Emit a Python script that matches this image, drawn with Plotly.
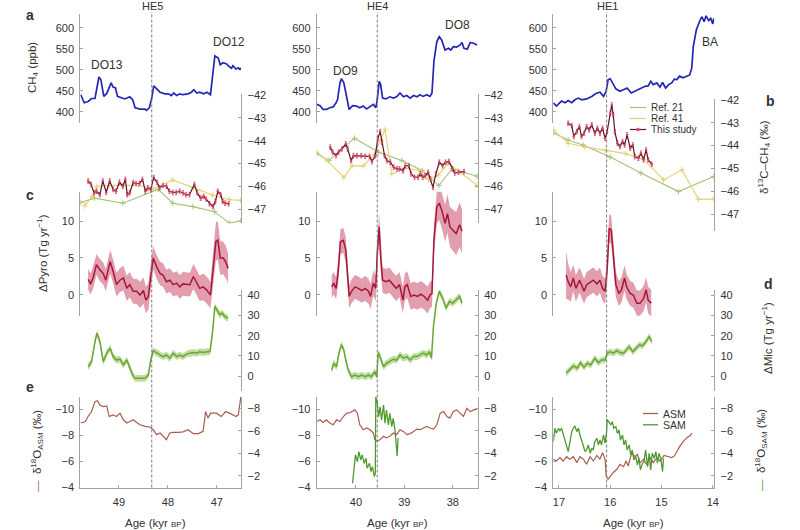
import plotly.graph_objects as go

W, H = 800, 530
def fx(p): return p / W
def fy(p): return 1 - p / H

# ---------------- DATA ----------------
heinrich_labels = ["HE5", "HE4", "HE1"]
heinrich_ages = [48.33, 39.56, 16.07]
x_ticks_he5 = [49, 48, 47]
x_ticks_he4 = [40, 39, 38]
x_ticks_he1 = [17, 16, 15, 14]
ticks_ch4 = [400, 450, 500, 550, 600]
ticks_d13c = [-42, -43, -44, -45, -46, -47]
ticks_pyro = [0, 5, 10]
ticks_mic = [0, 10, 20, 30, 40]
ticks_asm = [-10, -8, -6, -4]
ticks_sam = [-8, -6, -4, -2]

# HE5 column
he5_ch4_age = [49.78, 49.71, 49.63, 49.56, 49.49, 49.44, 49.41, 49.37, 49.31, 49.25, 49.16, 49.12, 49.07, 49.03, 48.95, 48.88, 48.78, 48.72, 48.67, 48.57, 48.47, 48.44, 48.38, 48.33, 48.29, 48.23, 48.16, 48.06, 47.99, 47.93, 47.88, 47.82, 47.76, 47.69, 47.59, 47.52, 47.47, 47.41, 47.35, 47.27, 47.20, 47.13, 47.09, 47.04, 46.97, 46.93, 46.87, 46.80, 46.75, 46.70, 46.67, 46.61, 46.56, 46.53, 46.51]
he5_ch4 = [441, 422, 425, 432, 432, 461, 483, 477, 437, 444, 469, 459, 457, 437, 433, 431, 436, 429, 410, 407, 407, 404, 410, 433, 462, 455, 447, 443, 443, 439, 445, 439, 443, 441, 443, 447, 453, 445, 447, 443, 447, 441, 477, 533, 528, 512, 517, 514, 508, 504, 510, 502, 505, 500, 505]
he5_d13c_age = [49.63, 49.57, 49.51, 49.46, 49.39, 49.33, 49.26, 49.19, 49.12, 49.06, 48.99, 48.92, 48.87, 48.83, 48.78, 48.71, 48.65, 48.58, 48.52, 48.46, 48.41, 48.35, 48.29, 48.22, 48.17, 48.10, 48.03, 47.97, 47.90, 47.83, 47.76, 47.69, 47.63, 47.56, 47.46, 47.40, 47.33, 47.27, 47.22, 47.15, 47.08, 47.03, 46.98, 46.92, 46.88, 46.83, 46.76]
he5_d13c = [-45.76, -45.91, -46.28, -46.21, -46.36, -45.76, -46.26, -45.76, -46.13, -46.21, -45.81, -45.99, -45.69, -46.36, -46.28, -45.83, -45.87, -45.87, -45.69, -46.21, -46.06, -46.13, -45.61, -45.83, -46.06, -45.96, -45.99, -46.21, -46.26, -46.26, -46.21, -46.28, -46.36, -46.36, -45.91, -46.28, -46.51, -46.43, -46.55, -46.76, -46.88, -46.66, -46.21, -46.36, -46.66, -46.73, -46.76]
he5_ref21_age = [49.78, 49.50, 48.92, 48.20, 47.90, 47.49, 47.05, 46.74, 46.51]
he5_ref21 = [-46.70, -46.51, -46.73, -46.13, -46.73, -46.88, -47.10, -47.60, -47.50]
he5_ref41_age = [49.70, 49.55, 49.45, 49.20, 48.90, 48.60, 48.30, 47.90, 47.48, 47.08, 46.74, 46.51]
he5_ref41 = [-46.85, -46.45, -46.00, -45.95, -45.95, -45.95, -46.10, -45.72, -46.05, -46.38, -46.58, -46.60]
he5_pyro_age = [49.63, 49.58, 49.53, 49.46, 49.39, 49.32, 49.27, 49.18, 49.12, 49.05, 48.98, 48.91, 48.84, 48.78, 48.71, 48.64, 48.57, 48.50, 48.45, 48.40, 48.35, 48.30, 48.23, 48.16, 48.10, 48.03, 47.96, 47.89, 47.82, 47.76, 47.69, 47.62, 47.55, 47.48, 47.41, 47.35, 47.28, 47.21, 47.13, 47.08, 47.02, 46.98, 46.93, 46.87, 46.82, 46.77]
he5_pyro = [2.1, 1.5, 2.3, 4.1, 3.4, 2.9, 2.0, 4.5, 3.2, 1.4, 2.0, 2.3, 0.9, 1.4, 0.5, 0.5, 0.0, 0.6, -0.7, -0.2, 2.5, 5.0, 3.8, 2.9, 2.7, 1.8, 2.0, 1.4, 1.6, 1.1, 1.5, 1.4, 1.4, 2.5, 1.6, 0.9, 1.1, 0.7, 0.0, 3.4, 7.2, 7.4, 5.0, 5.0, 4.5, 3.6]
he5_pyro_err = [1.4, 1.4, 1.5, 1.4, 1.5, 1.5, 1.5, 1.6, 1.6, 1.6, 1.6, 1.7, 1.7, 1.7, 1.7, 1.7, 1.8, 1.8, 1.8, 1.8, 1.7, 1.6, 1.6, 1.6, 1.6, 1.6, 1.6, 1.6, 1.6, 1.6, 1.6, 1.6, 1.6, 1.7, 1.7, 1.7, 1.8, 1.8, 1.8, 2.0, 2.6, 2.6, 2.3, 2.2, 2.2, 2.0]
he5_mic_age = [49.63, 49.56, 49.49, 49.45, 49.39, 49.32, 49.25, 49.18, 49.12, 49.05, 48.98, 48.91, 48.84, 48.78, 48.72, 48.67, 48.57, 48.47, 48.40, 48.35, 48.30, 48.23, 48.16, 48.10, 48.03, 47.96, 47.89, 47.82, 47.76, 47.69, 47.62, 47.55, 47.48, 47.41, 47.35, 47.28, 47.21, 47.14, 47.09, 47.04, 47.00, 46.94, 46.89, 46.84, 46.77]
he5_mic = [4.7, 7.2, 17.1, 21.2, 17.1, 7.2, 11.4, 13.8, 9.7, 8.0, 8.4, 5.6, 8.0, 4.7, 0.6, -1.0, -1.0, -1.0, 0.6, 8.0, 12.6, 11.4, 10.5, 9.7, 10.5, 8.9, 11.4, 9.7, 10.5, 9.7, 10.9, 11.4, 11.7, 11.4, 12.1, 11.7, 12.1, 12.1, 21.2, 34.4, 32.7, 30.3, 31.1, 29.4, 28.6]
he5_mic_err = 1.7
he5_asm_age = [49.78, 49.69, 49.63, 49.56, 49.49, 49.44, 49.39, 49.32, 49.25, 49.20, 49.12, 49.05, 48.98, 48.91, 48.84, 48.78, 48.71, 48.64, 48.57, 48.47, 48.37, 48.30, 48.23, 48.16, 48.10, 48.03, 47.96, 47.89, 47.79, 47.69, 47.59, 47.48, 47.38, 47.28, 47.23, 47.18, 47.13, 47.01, 46.91, 46.82, 46.74, 46.61, 46.56, 46.51]
he5_asm = [-8.94, -9.06, -9.44, -9.82, -10.58, -10.65, -10.33, -10.2, -10.25, -9.44, -9.57, -9.44, -9.7, -9.19, -8.94, -9.06, -9.19, -8.98, -8.81, -8.68, -8.64, -8.43, -8.05, -8.18, -7.92, -7.67, -8.18, -8.23, -8.23, -8.26, -8.43, -8.13, -8.13, -8.3, -9.82, -9.32, -9.7, -9.7, -9.44, -9.82, -9.7, -9.44, -9.57, -10.95]
he5_sam_age = []
he5_sam = []

# HE4 column
he4_ch4_age = [40.81, 40.74, 40.68, 40.61, 40.54, 40.47, 40.41, 40.38, 40.33, 40.30, 40.25, 40.19, 40.14, 40.07, 39.99, 39.92, 39.85, 39.78, 39.71, 39.64, 39.59, 39.56, 39.52, 39.49, 39.45, 39.38, 39.30, 39.23, 39.16, 39.09, 39.02, 38.95, 38.88, 38.81, 38.74, 38.68, 38.61, 38.54, 38.47, 38.43, 38.39, 38.33, 38.28, 38.23, 38.16, 38.09, 38.04, 37.99, 37.92, 37.85, 37.81, 37.77, 37.70, 37.64, 37.57, 37.50]
he4_ch4 = [418, 415, 406, 406, 410, 412, 422, 429, 469, 479, 469, 429, 406, 415, 414, 410, 414, 407, 412, 418, 410, 429, 473, 465, 433, 431, 436, 433, 436, 445, 436, 439, 433, 439, 436, 441, 437, 441, 437, 445, 520, 567, 579, 571, 547, 551, 547, 555, 554, 559, 565, 551, 549, 565, 563, 559]
he4_d13c_age = [40.53, 40.48, 40.41, 40.36, 40.29, 40.21, 40.17, 40.10, 40.05, 39.98, 39.89, 39.81, 39.72, 39.67, 39.60, 39.55, 39.50, 39.46, 39.41, 39.36, 39.29, 39.22, 39.15, 39.10, 39.03, 38.98, 38.91, 38.86, 38.79, 38.72, 38.67, 38.62, 38.57, 38.51, 38.46, 38.41, 38.35, 38.28, 38.21, 38.15, 38.08, 38.01, 37.96, 37.88, 37.77]
he4_d13c = [-44.28, -44.50, -44.65, -44.50, -44.36, -44.14, -44.36, -44.87, -44.65, -44.65, -44.65, -44.68, -44.68, -44.91, -44.65, -43.92, -43.60, -44.06, -44.65, -44.87, -44.94, -45.16, -45.23, -45.23, -45.31, -45.09, -45.09, -45.45, -45.60, -45.60, -45.45, -45.60, -45.53, -45.38, -45.67, -46.04, -45.45, -44.94, -45.09, -44.94, -44.91, -45.23, -45.41, -45.38, -45.35]
he4_ref21_age = [40.81, 40.56, 40.03, 39.53, 39.05, 38.63, 38.29, 38.01, 37.50]
he4_ref21 = [-44.57, -44.87, -43.89, -44.50, -44.87, -45.31, -45.96, -45.23, -45.55]
he4_ref41_age = [40.81, 40.60, 40.25, 40.08, 39.85, 39.62, 39.50, 39.40, 39.26, 39.00, 38.70, 38.50, 38.30, 38.10, 37.90, 37.50]
he4_ref41 = [-44.50, -44.85, -45.60, -45.10, -45.10, -44.60, -44.00, -43.50, -45.45, -45.20, -45.30, -45.70, -45.50, -45.00, -45.30, -45.95]
he4_pyro_age = [40.50, 40.46, 40.41, 40.37, 40.32, 40.26, 40.21, 40.18, 40.14, 40.09, 40.02, 39.95, 39.88, 39.81, 39.74, 39.70, 39.64, 39.59, 39.56, 39.52, 39.49, 39.45, 39.38, 39.31, 39.24, 39.17, 39.10, 39.03, 38.99, 38.94, 38.87, 38.80, 38.73, 38.66, 38.59, 38.52, 38.47, 38.43, 38.39, 38.33, 38.28, 38.23, 38.16, 38.11, 38.06, 38.00, 37.93, 37.86, 37.81]
he4_pyro = [1.1, 1.6, 0.9, 2.9, 7.2, 7.4, 6.1, 3.4, -0.2, 0.5, 1.1, 0.9, 0.6, 0.9, 0.5, -0.2, 1.6, 0.9, 5.6, 9.2, 5.2, 2.0, 1.8, 2.0, 1.4, 0.9, 1.4, -0.7, 1.1, 1.4, -0.2, 0.0, -0.2, 0.1, -0.2, -0.7, 0.0, 0.2, 7.4, 11.9, 12.4, 11.5, 9.7, 11.0, 9.2, 8.8, 8.3, 9.5, 8.6]
he4_pyro_err = [1.5, 1.5, 1.5, 1.6, 1.7, 1.7, 1.7, 1.6, 1.6, 1.6, 1.6, 1.6, 1.6, 1.7, 1.7, 1.7, 1.7, 1.7, 1.7, 1.8, 1.8, 1.7, 1.7, 1.7, 1.7, 1.7, 1.7, 1.8, 1.8, 1.8, 1.8, 1.8, 1.8, 1.8, 1.8, 1.8, 1.8, 1.8, 2.0, 2.2, 2.3, 2.4, 2.5, 2.6, 2.7, 2.8, 2.9, 3.0, 3.0]
he4_mic_age = [40.50, 40.46, 40.40, 40.35, 40.30, 40.25, 40.21, 40.16, 40.09, 40.02, 39.95, 39.88, 39.81, 39.74, 39.68, 39.61, 39.57, 39.54, 39.49, 39.43, 39.37, 39.30, 39.23, 39.16, 39.09, 39.02, 38.95, 38.88, 38.81, 38.74, 38.68, 38.61, 38.54, 38.48, 38.44, 38.40, 38.34, 38.28, 38.21, 38.14, 38.07, 38.00, 37.93, 37.86, 37.81]
he4_mic = [3.1, 6.4, 4.7, 11.4, 15.5, 13.0, 8.0, 3.1, -0.2, 0.6, -0.2, 0.6, -0.2, 0.6, -0.2, 2.3, -0.2, 11.7, 8.9, 4.7, 6.4, 7.2, 8.4, 8.0, 10.5, 8.9, 9.7, 8.0, 9.7, 9.7, 10.5, 11.4, 10.5, 12.1, 8.9, 24.5, 36.0, 41.8, 38.5, 33.6, 36.8, 36.0, 37.7, 39.3, 36.0]
he4_mic_err = 1.7
he4_asm_age = [40.81, 40.74, 40.68, 40.61, 40.54, 40.47, 40.40, 40.33, 40.26, 40.19, 40.12, 40.02, 39.97, 39.92, 39.85, 39.78, 39.71, 39.64, 39.61, 39.56, 39.50, 39.43, 39.37, 39.30, 39.23, 39.16, 39.09, 39.02, 38.95, 38.88, 38.81, 38.74, 38.68, 38.61, 38.54, 38.47, 38.40, 38.33, 38.26, 38.19, 38.12, 38.06, 37.99, 37.92, 37.85, 37.78, 37.71, 37.64, 37.57, 37.50]
he4_asm = [-9.06, -9.19, -8.98, -9.19, -8.94, -8.81, -9.19, -9.06, -9.44, -9.70, -9.75, -9.95, -9.70, -8.81, -8.43, -8.56, -8.43, -8.18, -7.67, -7.55, -7.67, -7.92, -7.80, -7.92, -8.18, -8.05, -8.43, -8.30, -8.05, -8.13, -8.30, -8.48, -8.43, -8.56, -8.68, -8.56, -8.48, -8.81, -9.70, -9.82, -9.44, -9.32, -9.82, -9.95, -9.70, -9.44, -10.07, -9.82, -9.95, -10.0]
he4_sam_age = [40.07, 40.04, 40.01, 39.97, 39.94, 39.90, 39.87, 39.83, 39.79, 39.77, 39.72, 39.69, 39.66, 39.62, 39.60, 39.59, 39.56, 39.53, 39.50, 39.47, 39.43, 39.40, 39.37, 39.33, 39.30, 39.26, 39.23, 39.19, 39.16, 39.15, 39.13]
he4_sam = [-1.35, -2.53, -3.86, -3.27, -4.15, -3.42, -3.86, -3.12, -3.56, -2.68, -3.12, -2.38, -2.82, -1.94, -2.23, -9.03, -8.44, -7.26, -8.14, -6.96, -8.29, -6.67, -7.85, -6.52, -7.56, -6.37, -7.11, -5.93, -4.60, -3.77, -5.34]

# HE1 column
he1_ch4_age = [17.11, 17.05, 16.95, 16.88, 16.82, 16.75, 16.69, 16.62, 16.56, 16.46, 16.36, 16.28, 16.20, 16.13, 16.08, 16.04, 16.00, 15.95, 15.89, 15.81, 15.73, 15.67, 15.59, 15.52, 15.45, 15.39, 15.32, 15.26, 15.21, 15.16, 15.09, 15.03, 14.98, 14.92, 14.86, 14.80, 14.75, 14.70, 14.65, 14.58, 14.52, 14.45, 14.41, 14.38, 14.32, 14.28, 14.24, 14.21, 14.17, 14.13, 14.08, 14.04, 14.00, 13.98]
he1_ch4 = [422, 414, 426, 422, 427, 422, 429, 433, 429, 431, 437, 444, 447, 437, 449, 477, 479, 467, 455, 449, 453, 457, 445, 449, 453, 457, 461, 462, 473, 465, 469, 459, 470, 457, 465, 469, 478, 477, 485, 481, 485, 488, 504, 555, 595, 610, 620, 626, 614, 628, 617, 622, 609, 622]
he1_d13c_age = [16.82, 16.75, 16.71, 16.65, 16.60, 16.56, 16.51, 16.46, 16.41, 16.36, 16.30, 16.25, 16.20, 16.15, 16.10, 16.06, 16.00, 15.97, 15.94, 15.91, 15.86, 15.81, 15.76, 15.72, 15.67, 15.61, 15.56, 15.52, 15.45, 15.40, 15.35, 15.30, 15.26, 15.19]
he1_d13c = [-43.02, -43.12, -43.60, -43.39, -43.17, -43.60, -43.46, -43.17, -43.31, -43.09, -43.46, -43.24, -43.46, -43.24, -43.68, -43.39, -42.58, -42.22, -42.66, -43.39, -43.89, -44.04, -43.82, -43.97, -43.53, -44.11, -43.97, -44.48, -44.55, -44.33, -44.62, -44.19, -44.62, -44.81]
he1_ref21_age = [17.11, 16.82, 16.53, 16.00, 15.40, 14.67, 13.98]
he1_ref21 = [-43.45, -43.75, -43.97, -44.50, -45.20, -46.01, -45.35]
he1_ref41_age = [17.11, 16.82, 16.50, 16.10, 15.70, 15.35, 14.96, 14.60, 14.28, 13.98]
he1_ref41 = [-43.30, -43.90, -44.05, -44.20, -44.35, -44.60, -45.50, -45.06, -46.34, -46.34]
he1_pyro_age = [16.86, 16.82, 16.77, 16.72, 16.67, 16.60, 16.56, 16.51, 16.46, 16.39, 16.33, 16.26, 16.20, 16.15, 16.10, 16.06, 16.02, 15.98, 15.94, 15.89, 15.83, 15.78, 15.72, 15.68, 15.61, 15.55, 15.48, 15.42, 15.35, 15.30, 15.26, 15.20]
he1_pyro = [2.7, 1.8, 1.1, 2.3, 0.9, 2.0, 1.4, 0.5, 1.4, 1.7, 2.0, 1.5, 2.0, 0.9, 0.5, 3.4, 9.0, 8.8, 5.2, 1.4, 0.2, 0.7, 2.3, 1.1, 0.2, 0.0, -1.1, -1.1, -0.5, 0.7, -0.7, -1.1]
he1_pyro_err = [3.2, 2.4, 2.0, 1.8, 1.8, 1.7, 1.7, 1.7, 1.7, 1.7, 1.7, 1.7, 1.7, 1.7, 1.7, 1.8, 1.9, 1.9, 1.8, 1.7, 1.7, 1.7, 1.7, 1.7, 1.7, 1.7, 1.7, 1.7, 1.7, 1.7, 1.8, 1.8]
he1_mic_age = [16.86, 16.79, 16.72, 16.64, 16.58, 16.51, 16.45, 16.38, 16.30, 16.23, 16.17, 16.10, 16.06, 16.00, 15.94, 15.87, 15.81, 15.74, 15.68, 15.63, 15.56, 15.50, 15.43, 15.37, 15.30, 15.24, 15.19]
he1_mic = [1.5, 3.1, 5.1, 4.0, 6.7, 4.4, 6.4, 5.6, 8.9, 6.7, 8.0, 8.0, 11.4, 12.1, 11.4, 12.6, 11.7, 11.4, 13.0, 14.6, 12.1, 13.8, 15.5, 15.0, 17.1, 19.6, 17.1]
he1_mic_err = 1.6
he1_asm_age = [17.11, 17.05, 16.98, 16.92, 16.85, 16.79, 16.72, 16.65, 16.59, 16.52, 16.46, 16.39, 16.33, 16.26, 16.20, 16.15, 16.10, 16.08, 16.04, 15.99, 15.94, 15.87, 15.81, 15.74, 15.69, 15.65, 15.58, 15.52, 15.47, 15.42, 15.35, 15.29, 15.22, 15.16, 15.09, 15.03, 14.95, 14.86, 14.80, 14.75, 14.70, 14.64, 14.57, 14.51, 14.44, 14.41]
he1_asm = [-6.16, -6.03, -6.29, -6.03, -6.36, -6.16, -6.36, -5.91, -6.36, -6.16, -5.78, -6.36, -6.03, -6.46, -6.16, -6.67, -6.16, -4.89, -4.64, -4.89, -5.15, -5.40, -5.78, -5.60, -6.03, -5.65, -6.67, -6.36, -6.54, -5.91, -6.16, -5.78, -6.29, -5.91, -6.29, -6.03, -6.46, -6.36, -6.29, -6.42, -6.79, -7.17, -7.55, -7.80, -7.98, -8.18]
he1_sam_age = [17.11, 17.08, 17.05, 17.01, 16.98, 16.95, 16.92, 16.88, 16.85, 16.82, 16.79, 16.75, 16.72, 16.69, 16.65, 16.62, 16.59, 16.56, 16.52, 16.49, 16.46, 16.43, 16.39, 16.36, 16.33, 16.30, 16.26, 16.23, 16.20, 16.17, 16.13, 16.10, 16.07, 16.06, 16.03, 15.99, 15.96, 15.93, 15.89, 15.86, 15.83, 15.80, 15.76, 15.73, 15.70, 15.67, 15.63, 15.60, 15.57, 15.54, 15.50, 15.47, 15.44, 15.41, 15.37, 15.34, 15.31, 15.27, 15.24, 15.21, 15.18, 15.14, 15.11, 15.08, 15.05, 15.01, 14.98, 14.96]
he1_sam = [-5.04, -6.23, -5.78, -6.23, -6.01, -6.23, -5.78, -5.19, -4.60, -4.15, -4.90, -5.93, -6.23, -6.43, -5.93, -6.23, -5.63, -5.19, -4.75, -4.15, -4.30, -4.75, -4.01, -4.45, -4.30, -5.04, -5.34, -4.75, -5.19, -4.75, -5.63, -4.90, -5.93, -7.02, -6.81, -6.52, -6.81, -6.23, -6.37, -5.78, -6.08, -5.19, -5.63, -4.75, -5.19, -4.30, -4.75, -3.86, -4.30, -3.42, -3.71, -2.97, -3.56, -2.53, -3.12, -3.27, -4.30, -2.82, -4.01, -2.53, -4.01, -3.56, -4.15, -3.12, -4.01, -3.42, -2.38, -3.56]

# ---------------- STYLE / LAYOUT ----------------
C_CH4 = "#2626b4"
C_STUDY_LINE = "#5c1429"
C_STUDY_MK = "#d4435f"
C_REF21 = "#a9c07c"
C_REF41 = "#e3d070"
C_PYRO = "#a8173a"
C_PYRO_BAND = "rgba(206,92,120,0.6)"
C_MIC = "#6aa636"
C_MIC_BAND = "rgba(150,200,100,0.6)"
C_ASM = "#a85d4e"
C_SAM = "#4e9a2c"
AX = "#a3a3a3"
TXT = "#333333"
FONT = "Liberation Sans, Arial, Helvetica, sans-serif"
TICK_SIZE = 11

columns = [
    dict(xdom=(80.3, 241.3), xr=(49.79, 46.50), ticks=x_ticks_he5, bdom=(94.3, 223.3), br=(-47.61, -41.97),
         ch4=(he5_ch4_age, he5_ch4), d13c=(he5_d13c_age, he5_d13c), r21=(he5_ref21_age, he5_ref21),
         r41=(he5_ref41_age, he5_ref41), pyro=(he5_pyro_age, he5_pyro, he5_pyro_err),
         mic=(he5_mic_age, he5_mic, he5_mic_err), asm=(he5_asm_age, he5_asm), sam=(he5_sam_age, he5_sam)),
    dict(xdom=(316.7, 478.0), xr=(40.81, 37.48), ticks=x_ticks_he4, bdom=(94.3, 223.3), br=(-47.61, -41.97),
         ch4=(he4_ch4_age, he4_ch4), d13c=(he4_d13c_age, he4_d13c), r21=(he4_ref21_age, he4_ref21),
         r41=(he4_ref41_age, he4_ref41), pyro=(he4_pyro_age, he4_pyro, he4_pyro_err),
         mic=(he4_mic_age, he4_mic, he4_mic_err), asm=(he4_asm_age, he4_asm), sam=(he4_sam_age, he4_sam)),
    dict(xdom=(553.3, 714.3), xr=(17.11, 13.97), ticks=x_ticks_he1, bdom=(99.0, 230.7), br=(-47.72, -41.96),
         ch4=(he1_ch4_age, he1_ch4), d13c=(he1_d13c_age, he1_d13c), r21=(he1_ref21_age, he1_ref21),
         r41=(he1_ref41_age, he1_ref41), pyro=(he1_pyro_age, he1_pyro, he1_pyro_err),
         mic=(he1_mic_age, he1_mic, he1_mic_err), asm=(he1_asm_age, he1_asm), sam=(he1_sam_age, he1_sam)),
]

A_DOM = (14.3, 122.7); A_R = (374.6, 631.8)
C_DOM = (191.7, 316.0); C_R = (-2.84, 13.96)
D_DOM = (290.0, 390.7); D_R = (-7.08, 42.46)
E_DOM = (396.7, 487.5); E_R = (-4.0, -10.96); ER_R = (-0.97, -9.03)

def ref(kind, i):
    return kind if i == 1 else f"{kind}{i}"
def key(kind, i):
    return f"{kind}axis" if i == 1 else f"{kind}axis{i}"

fig = go.Figure()
layout = dict(width=W, height=H, margin=dict(l=0, r=0, t=0, b=0, pad=0), autosize=False,
              paper_bgcolor="white", plot_bgcolor="rgba(0,0,0,0)", showlegend=False,
              font=dict(family=FONT, size=12, color=TXT))

def yaxis(dom, rng, side, xname, tickvals, overlaying=None):
    d = dict(range=list(rng), side=side, anchor=xname, showgrid=False, zeroline=False,
             showline=True, linecolor=AX, linewidth=1, ticks="inside", ticklen=3, tickcolor=AX,
             tickvals=tickvals, tickfont=dict(size=TICK_SIZE, color=TXT, family=FONT),
             ticklabelstandoff=3, fixedrange=True, automargin=False)
    if overlaying:
        d["overlaying"] = overlaying
    else:
        d["domain"] = [fy(dom[1]), fy(dom[0])]
    return d

shapes = []
for ci, col in enumerate(columns):
    xi = ci + 1
    xn = ref("x", xi)
    base = ci * 6
    ya, yb, yc, yd, ye, yer = [base + k for k in range(1, 7)]
    layout[key("x", xi)] = dict(domain=[fx(col["xdom"][0]), fx(col["xdom"][1])], range=list(col["xr"]),
                                anchor=ref("y", ye), showgrid=False, zeroline=False, showline=True,
                                linecolor=AX, linewidth=1, ticks="inside", ticklen=3, tickcolor=AX,
                                tickvals=col["ticks"], tickfont=dict(size=TICK_SIZE, color=TXT, family=FONT),
                                ticklabelstandoff=4, fixedrange=True, automargin=False)
    layout[key("y", ya)] = yaxis(A_DOM, A_R, "left", xn, ticks_ch4)
    layout[key("y", yb)] = yaxis(col["bdom"], col["br"], "right", xn, ticks_d13c)
    layout[key("y", yc)] = yaxis(C_DOM, C_R, "left", xn, ticks_pyro)
    layout[key("y", yd)] = yaxis(D_DOM, D_R, "right", xn, ticks_mic)
    layout[key("y", ye)] = yaxis(E_DOM, E_R, "left", xn, ticks_asm)
    layout[key("y", yer)] = yaxis(E_DOM, ER_R, "right", xn, ticks_sam, overlaying=ref("y", ye))

    # a: CH4
    fig.add_trace(go.Scatter(x=col["ch4"][0], y=col["ch4"][1], mode="lines",
                             line=dict(color=C_CH4, width=1.7), xaxis=xn, yaxis=ref("y", ya)))
    # c: pyro band + line
    pa, pv, pe = col["pyro"]
    up = [v + e for v, e in zip(pv, pe)]
    lo = [v - e for v, e in zip(pv, pe)]
    fig.add_trace(go.Scatter(x=list(pa) + list(pa)[::-1], y=up + lo[::-1], mode="lines", fill="toself",
                             fillcolor=C_PYRO_BAND, line=dict(width=0, color=C_PYRO_BAND),
                             xaxis=xn, yaxis=ref("y", yc), hoverinfo="skip"))
    fig.add_trace(go.Scatter(x=pa, y=pv, mode="lines", line=dict(color=C_PYRO, width=1.5),
                             xaxis=xn, yaxis=ref("y", yc)))
    # d: mic band + line
    ma, mv, me = col["mic"]
    fig.add_trace(go.Scatter(x=list(ma) + list(ma)[::-1], y=[v + me for v in mv] + [v - me for v in mv][::-1],
                             mode="lines", fill="toself", fillcolor=C_MIC_BAND,
                             line=dict(width=0, color=C_MIC_BAND), xaxis=xn, yaxis=ref("y", yd), hoverinfo="skip"))
    fig.add_trace(go.Scatter(x=ma, y=mv, mode="lines", line=dict(color=C_MIC, width=1.5),
                             xaxis=xn, yaxis=ref("y", yd)))
    # b: d13C
    fig.add_trace(go.Scatter(x=col["r21"][0], y=col["r21"][1], mode="lines+markers",
                             line=dict(color=C_REF21, width=1.1),
                             marker=dict(symbol="cross-thin", size=4, line=dict(color=C_REF21, width=1)),
                             xaxis=xn, yaxis=ref("y", yb)))
    fig.add_trace(go.Scatter(x=col["r41"][0], y=col["r41"][1], mode="lines+markers",
                             line=dict(color=C_REF41, width=1.1),
                             marker=dict(symbol="cross-thin", size=4, line=dict(color=C_REF41, width=1)),
                             xaxis=xn, yaxis=ref("y", yb)))
    fig.add_trace(go.Scatter(x=col["d13c"][0], y=col["d13c"][1], mode="lines+markers",
                             line=dict(color=C_STUDY_LINE, width=1.2),
                             marker=dict(symbol="circle", size=2.5, color=C_STUDY_MK),
                             error_y=dict(type="constant", value=0.1, color=C_STUDY_MK, thickness=0.8, width=1),
                             xaxis=xn, yaxis=ref("y", yb)))
    # e: ASM / SAM
    fig.add_trace(go.Scatter(x=col["asm"][0], y=col["asm"][1], mode="lines",
                             line=dict(color=C_ASM, width=1.2), xaxis=xn, yaxis=ref("y", ye)))
    fig.add_trace(go.Scatter(x=col["sam"][0], y=col["sam"][1], mode="lines",
                             line=dict(color=C_SAM, width=1.3), xaxis=xn, yaxis=ref("y", yer)))

    # Heinrich event dashed line
    shapes.append(dict(type="line", xref=xn, yref="paper", x0=heinrich_ages[ci], x1=heinrich_ages[ci],
                       y0=fy(E_DOM[1]), y1=fy(12), line=dict(color="#7a7a7a", width=1, dash="3px,2px")))

annotations = []
def ann(px, py, text, size=12, bold=False, angle=0, xanchor="center", yanchor="middle", color=TXT, pad=1):
    if bold:
        text = f"<b>{text}</b>"
    annotations.append(dict(x=fx(px), y=fy(py), xref="paper", yref="paper", text=text, showarrow=False,
                            font=dict(size=size, color=color, family=FONT), textangle=angle,
                            xanchor=xanchor, yanchor=yanchor, borderpad=pad))

# column headers
for lbl, px in zip(heinrich_labels, [152, 377, 607]):
    ann(px, 6, lbl, size=11)
# event labels
ann(107, 65, "DO13", 12); ann(229, 42, "DO12", 12); ann(345, 71, "DO9", 12)
ann(457, 25, "DO8", 12); ann(710, 42, "BA", 12)
# panel letters
ann(30, 15, "a", 14, bold=True); ann(770, 101, "b", 14, bold=True); ann(30, 195, "c", 14, bold=True)
ann(768, 284, "d", 14, bold=True); ann(30, 387, "e", 14, bold=True)
# axis titles
ann(33, 68, "CH<sub>4</sub> (ppb)", 11.5, angle=-90)
ann(42, 253, "ΔPyro (Tg yr<sup>−1</sup>)", 11.5, angle=-90)
ann(37, 451, f"<span style='color:{C_ASM}'>—</span>  δ<sup>18</sup>O<sub>ASM</sub> (‰)", 11.5, angle=-90)
ann(764, 157, "δ<sup>13</sup>C–CH<sub>4</sub> (‰)", 11.5, angle=-90)
ann(767, 338, "ΔMic (Tg yr<sup>−1</sup>)", 11.5, angle=-90)
ann(761, 450, f"<span style='color:{C_SAM}'>—</span>  δ<sup>18</sup>O<sub>SAM</sub> (‰)", 11.5, angle=-90)
for px in [155, 397, 633]:
    ann(px, 523, "Age (kyr <span style='font-size:8px'>BP</span>)", 11.5)

# legend for b (manual, col 3)
leg_b = [("Ref. 21", C_REF21, 107.5), ("Ref. 41", C_REF41, 118.5), ("This study", C_STUDY_LINE, 129.5)]
for name, c, py in leg_b:
    shapes.append(dict(type="line", xref="paper", yref="paper", x0=fx(630), x1=fx(646), y0=fy(py), y1=fy(py),
                       line=dict(color=c, width=1.2)))
    ann(650, py, name, 10, xanchor="left", pad=0)
shapes.append(dict(type="circle", xref="paper", yref="paper", x0=fx(636.5), x1=fx(639.5), y0=fy(131), y1=fy(128),
                   fillcolor=C_STUDY_MK, line=dict(color=C_STUDY_MK, width=0.5)))
# legend for e (manual, col 3)
for name, c, py in [("ASM", C_ASM, 413.5), ("SAM", C_SAM, 424.8)]:
    shapes.append(dict(type="line", xref="paper", yref="paper", x0=fx(643), x1=fx(658), y0=fy(py), y1=fy(py),
                       line=dict(color=c, width=1.3)))
    ann(662, py, name, 10.5, xanchor="left", pad=0)

layout["shapes"] = shapes
layout["annotations"] = annotations
fig.update_layout(**layout)
fig.write_html("out.html", config=dict(displayModeBar=False, staticPlot=True),
               post_script="document.body.style.margin='0px';document.body.style.overflow='hidden';")
